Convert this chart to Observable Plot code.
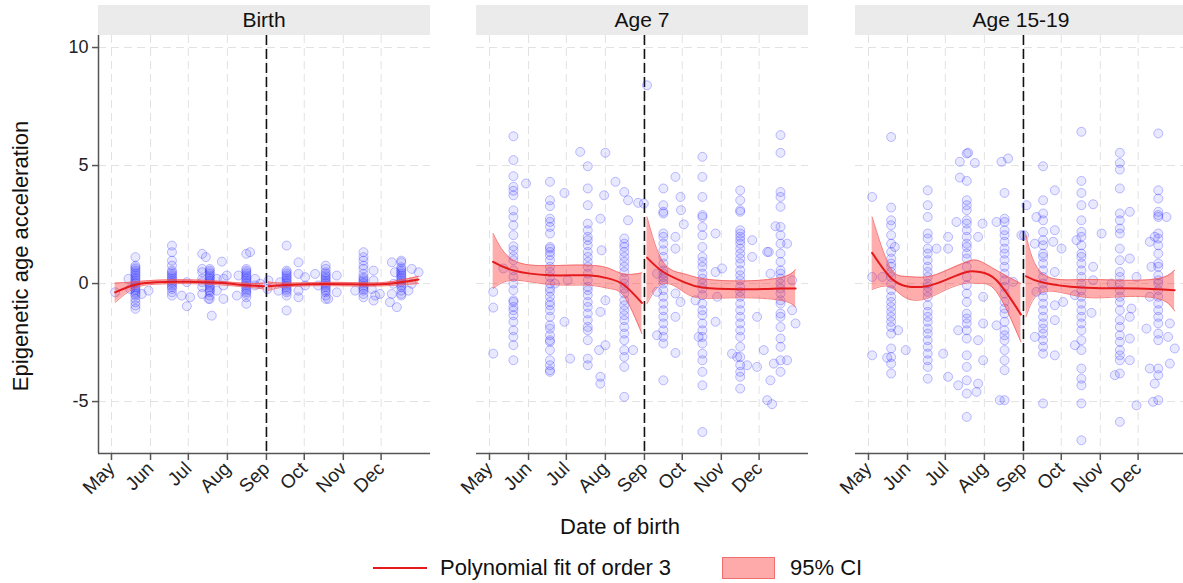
<!DOCTYPE html>
<html>
<head>
<meta charset="utf-8">
<script src="https://cdn.jsdelivr.net/npm/d3@7"></script>
<script src="https://cdn.jsdelivr.net/npm/@observablehq/plot@0.6"></script>
<style>
  html, body { margin: 0; padding: 0; background: #fff; }
  #root { position: relative; width: 1183px; height: 583px; overflow: hidden; background: #fff;
          font-family: "Liberation Sans", Arial, sans-serif; color: #111; }
  .hdr { position: absolute; top: 5px; height: 30px; width: 332px; background: #ebebeb;
         text-align: center; line-height: 30px; font-size: 21px; color: #111; }
  .lbl { position: absolute; white-space: nowrap; }
</style>
</head>
<body>
<div id="root"></div>
<script>
// ---------- categories / ticks ----------
const panelNames = ["Birth", "Age 7", "Age 15-19"];
const monthTicks = [0, 31, 61, 92, 123, 153, 184, 214];           // days since 1 May
const monthLabels = ["May", "Jun", "Jul", "Aug", "Sep", "Oct", "Nov", "Dec"];
const yTicks = [-5, 0, 5, 10];
const yTickLabels = ["-5", "0", "5", "10"];
const cutoffDay = 123;                                              // 1 September

// ---------- Birth: points (columns [day, values] + scattered [day, value]) ----------
const birthCols = [
  [19, [1.12,0.76,0.69,0.62,0.55,0.48,0.41,0.34,0.27,0.2,0.13,0.06,0.0,-0.08,-0.15,-0.23,-0.3,-0.37,-0.44,-0.51,-0.65,-0.79,-0.93,-1.07]],
  [48, [1.61,1.33,0.97,0.76,0.55,0.48,0.41,0.34,0.27,0.2,0.13,0.06,0.0,-0.08,-0.15,-0.23,-0.37,-0.51]],
  [72, [1.26,0.62,0.48,0.2,0.06,-0.15,-0.44]],
  [78, [0.62,0.55,0.48,0.41,0.34,0.27,0.2,0.13,0.06,0.0,-0.08,-0.15,-0.23,-0.3,-0.37,-0.51,-0.65]],
  [107, [1.26,0.62,0.55,0.48,0.41,0.34,0.27,0.2,0.13,0.06,0.0,-0.08,-0.15,-0.23,-0.3,-0.37,-0.44,-0.58,-0.86]],
  [139, [1.61,0.55,0.48,0.41,0.34,0.27,0.2,0.13,0.06,0.0,-0.08,-0.15,-0.23,-0.3,-0.37,-0.51,-1.14]],
  [170, [0.76,0.62,0.48,0.41,0.34,0.27,0.2,0.13,0.06,0.0,-0.08,-0.15,-0.23,-0.3,-0.37,-0.51,-0.65]],
  [200, [1.33,1.12,0.97,0.76,0.62,0.41,0.27,0.2,0.13,0.06,0.0,-0.08,-0.15,-0.23,-0.3,-0.44,-0.58]],
  [230, [0.97,0.9,0.69,0.62,0.55,0.48,0.41,0.34,0.27,0.2,0.13,0.06,-0.01,-0.08,-0.15,-0.3,-0.44,-0.51]]
];
const birthExtra = [[2.9,-0.37],[13.5,0.2],[24,-0.44],[29.4,-0.3],[14.8,-0.23],[59.8,0.06],[62.4,-0.58],[59.8,-0.96],[55.8,-0.51],[74.9,1.12],[87.6,0.93],[83.6,0.2],[83.6,-0.3],[88.9,0.2],[88.9,-0.08],[88.9,-0.65],[91.5,0.34],[79.6,-1.36],[77,-0.65],[110,1.33],[99.5,-0.51],[100.8,0.34],[114,0.2],[114,-0.08],[118,-0.01],[124.6,0.13],[123.8,-0.23],[132.5,-0.3],[133.9,0.06],[148.4,0.9],[148.4,0.41],[148.4,-0.3],[148.4,-0.58],[153.7,0.27],[153.7,-0.08],[178.8,0.34],[178.8,-0.37],[164,-0.08],[161.6,0.41],[172,-0.65],[208,0.55],[208,0.13],[206.6,-0.23],[209.3,-0.51],[213,-0.44],[208,-0.72],[193.4,-0.3],[222.5,0.9],[225,0.48],[223.8,-0.01],[222.5,-0.44],[221,-0.79],[226.5,-1.0],[238.3,0.62],[243.7,0.48],[238.3,-0.01],[235.7,-0.3]];

// ---------- Age 7: points ----------
const age7Cols = [
  [19, [6.24,5.23,4.55,4.1,3.93,3.74,3.1,2.82,2.47,2.05,1.58,1.41,1.16,0.99,0.56,0.28,0,-0.28,-0.71,-0.78,-0.99,-1.13,-1.34,-1.62,-1.98,-2.26,-2.61,-3.25]],
  [48, [4.31,3.53,3.28,2.75,2.61,2.4,2.12,1.55,1.48,1.34,1.2,0.99,0.71,0.49,0.28,0,-0.21,-0.35,-0.56,-0.78,-0.92,-1.13,-1.41,-1.77,-1.91,-2.19,-2.4,-2.47,-2.82,-3.25,-3.46,-3.67,-3.74]],
  [78, [4.97,4.03,3.32,2.54,2.26,1.98,1.84,1.62,1.34,1.13,0.92,0.71,0.42,0.14,-0.14,-0.28,-0.49,-0.78,-0.99,-1.27,-1.55,-1.84,-1.98,-2.4,-3.18,-3.46]],
  [107, [3.88,1.91,1.69,1.55,1.34,1.13,0.92,0.71,0.49,0.21,0,-0.21,-0.42,-0.71,-0.92,-1.13,-1.34,-1.55,-1.84,-2.12,-2.4,-2.82,-3.11,-3.53,-4.8]],
  [138, [4.03,3.32,3.04,2.97,2.12,1.98,1.69,1.41,1.13,0.85,0.56,0.42,0.28,0.14,0,-0.28,-0.56,-0.85,-1.13,-1.41,-1.69,-1.98,-2.26,-2.54,-4.1]],
  [169, [5.37,4.52,3.67,2.9,2.82,2.4,2.05,1.55,1.13,0.92,0.71,0.42,0.21,0,-0.21,-0.49,-0.85,-1.13,-1.34,-1.69,-1.98,-2.26,-2.54,-2.97,-3.25,-3.74,-4.31,-6.29]],
  [199, [3.95,3.53,3.11,3.04,2.26,2.12,1.98,1.84,1.69,1.48,1.27,1.06,0.85,0.56,0.35,0.14,-0.14,-0.35,-0.56,-0.85,-1.13,-1.41,-1.69,-1.98,-2.26,-2.68,-3.11,-3.46,-3.74,-3.95,-4.45]],
  [231, [6.29,5.54,3.88,3.67,3.25,2.4,2.05,1.69,1.27,0.92,0.56,0.42,0.21,0,-0.21,-0.42,-0.71,-0.85,-1.27,-1.41,-1.84,-2.33,-2.68,-3.25,-3.74]]
];
const age7Extra = [[3,-0.35],[3,-1.02],[3,-2.97],[29,4.24],[11,0.64],[59.5,3.84],[59.5,-1.62],[52,0],[64,-3.18],[62,0.14],[72,5.58],[92,5.54],[91,3.74],[88,2.75],[89,1.41],[92,-0.71],[88,-1.2],[87,-2.82],[92,-2.61],[88,-3.95],[88,-4.24],[100,4.31],[110,3.53],[110,2.68],[118,3.42],[114,-2.82],[125,8.4],[122.5,3.39],[133,0.42],[133,-0.35],[133,-2.19],[147.6,4.52],[151.6,3.67],[152,3.11],[154.2,2.51],[147.6,1.98],[147.6,1.48],[147.6,-0.42],[147.6,-1.41],[147.6,-2.94],[151.6,-0.78],[179.4,2.12],[184.6,0.64],[179.4,0.49],[179.4,-1.62],[180.7,-0.56],[163.5,-0.71],[166,-2.26],[208.5,1.84],[208.5,1.13],[212.4,-1.41],[192.5,-2.97],[196.6,-3.11],[204.5,-3.46],[212.4,-3.53],[217.7,-2.82],[220.4,-4.94],[224.3,-5.11],[223,-4.1],[220.4,1.34],[227,2.43],[236.2,1.69],[240.2,0.14],[240.2,-1.13],[242.9,-1.69],[221.7,1.34],[223,0.42],[236.2,-3.25],[225.7,-3.39]];

// ---------- Age 15-19: points ----------
const age15Cols = [
  [18, [6.21,3.22,2.68,2.47,2.05,1.69,1.34,1.06,0.85,0.71,0.49,0.28,0,-0.28,-0.56,-0.78,-0.99,-1.2,-1.41,-1.62,-1.84,-2.12,-2.75,-3.11,-3.39,-3.81]],
  [47, [3.95,3.32,2.82,2.12,1.91,1.48,1.27,0.99,0.71,0.49,0.28,0,-0.14,-0.35,-0.56,-0.92,-1.2,-1.41,-1.62,-1.91,-2.12,-2.4,-2.68,-2.97,-3.25,-3.53,-4.03]],
  [78, [5.51,4.35,3.53,3.32,3.11,2.68,2.54,2.26,1.98,1.69,1.55,1.27,1.06,0.71,0.28,-0.07,-0.42,-0.78,-1.27,-1.48,-1.69,-1.98,-2.33,-3.04,-3.53,-4.1,-4.66,-5.65]],
  [108, [3.84,2.75,2.61,2.26,2.05,1.77,1.48,1.27,0.99,0.71,0.42,0.14,-0.14,-0.42,-0.78,-1.06,-1.27,-1.62,-1.98,-2.19,-2.4,-2.82,-3.25,-3.67,-4.94]],
  [138.6, [4.97,3.53,2.97,2.68,2.19,1.84,1.62,1.27,1.13,0.85,0.56,0.28,0,-0.28,-0.56,-0.85,-1.13,-1.41,-1.69,-1.91,-2.12,-2.4,-2.68,-2.97,-5.08]],
  [169, [6.43,4.35,3.84,3.32,2.68,2.19,1.98,1.62,1.27,1.13,0.85,0.56,0.28,0,-0.28,-0.56,-0.85,-1.13,-1.41,-1.69,-1.98,-2.4,-2.82,-3.6,-4.03,-4.31,-5.08,-6.64]],
  [199.5, [5.54,5.11,4.83,4.03,2.97,2.68,2.33,2.12,1.48,0.99,0.49,0.28,0,-0.28,-0.56,-0.78,-1.13,-1.55,-1.84,-2.19,-2.47,-2.82,-3.04,-3.25,-3.81,-5.86]],
  [230, [6.36,3.95,3.6,3.04,2.9,2.82,2.12,1.91,1.62,1.27,0.85,0.71,0.35,0.14,0,-0.28,-0.56,-0.85,-1.13,-1.41,-1.69,-2.12,-2.4,-3.6,-3.88,-4.94]]
];
const age15Extra = [[2.9,3.67],[2.9,0.28],[2.9,-3.04],[11.1,0.28],[14.8,-3.14],[29.6,-2.82],[23.5,-1.98],[20.9,1.55],[54,1.48],[59.3,-2.97],[63.2,1.98],[63.2,-3.95],[63.2,1.48],[72.5,5.16],[79.1,5.54],[84.4,5.11],[72.5,4.49],[90.5,2.54],[87,1.98],[91,-0.56],[91,-1.69],[87,-2.4],[91,-3.25],[87,-4.24],[85.7,-4.59],[69.8,2.61],[71.2,-1.98],[71.2,-4.31],[110.8,5.3],[105.6,5.16],[101.6,2.61],[101.6,-1.77],[121.4,2.05],[114.8,0.07],[104.2,-4.94],[125.4,3.32],[123.5,2.05],[133.3,2.82],[132,1.69],[133.3,-0.35],[132,-2.26],[147.9,3.95],[147.9,2.26],[146.6,1.77],[147.9,0.49],[147.9,-0.92],[147.9,-1.55],[147.9,-3.04],[153.2,1.48],[154.5,-0.78],[178.3,3.36],[185,2.12],[178.3,0.71],[178.3,0.14],[177,-1.24],[163.8,-2.61],[165.1,1.84],[163.8,-0.49],[207.4,1.06],[208.7,-1.06],[207.4,-1.41],[207.4,-2.33],[207.4,-3.25],[212.7,0.28],[212.7,-5.16],[207.4,3.04],[192.9,0],[195.5,-3.88],[223.3,1.77],[224.6,0.71],[223.3,-0.56],[220.6,-1.91],[239.2,-1.69],[237.8,-2.26],[243.1,-2.75],[239.2,-3.39],[223.3,-3.6],[227.2,-4.24],[236.5,2.82],[225.9,-5.01],[227.2,1.98]];

// ---------- Polynomial fits (order 3) with 95% CI: [day, fit, lo, hi] ----------
const birthFitBefore = [[2.9,-0.37,-0.8,0.02],[18,-0.06,-0.2,0.07],[35,0.06,-0.03,0.14],[60,0.08,0.0,0.16],[85,0.03,-0.05,0.1],[107,-0.07,-0.15,0.01],[121,-0.11,-0.23,0.02]];
const birthFitAfter  = [[124.6,-0.11,-0.3,0.07],[139,-0.06,-0.14,0.02],[170,-0.02,-0.09,0.05],[200,-0.04,-0.11,0.03],[222,0.0,-0.08,0.08],[243.7,0.17,0.0,0.31]];
const age7FitBefore  = [[2.9,0.92,-0.21,2.12],[18.8,0.56,0.14,0.99],[48,0.35,-0.04,0.76],[78,0.35,-0.07,0.78],[95,0.21,-0.21,0.64],[107,-0.07,-0.56,0.4],[121,-0.82,-2.12,0.45]];
const age7FitAfter   = [[125,1.1,-0.85,2.82],[138,0.49,0.0,0.9],[154,0.07,-0.35,0.42],[169,-0.17,-0.62,0.21],[199,-0.24,-0.6,0.11],[231,-0.21,-0.71,0.25],[243,-0.21,-0.99,0.59]];
const age15FitBefore = [[2.9,1.3,-0.25,2.82],[17,0.28,-0.14,0.71],[30,-0.11,-0.62,0.3],[46,-0.11,-0.64,0.28],[62,0.17,-0.25,0.56],[78,0.49,0.02,0.92],[88,0.49,0.0,0.96],[101.6,0.14,-0.35,0.56],[121,-1.31,-2.47,0.0]];
const age15FitAfter  = [[125,0.31,-1.41,2.05],[138.6,0.04,-0.35,0.4],[169,-0.17,-0.56,0.17],[199.5,-0.2,-0.56,0.14],[230,-0.24,-0.64,0.21],[243,-0.28,-1.16,0.56]];

// ---------- build tables ----------
function toPoints(cols, extra) {
  const out = [];
  cols.forEach(([d, vs]) => vs.forEach(v => out.push({day: d, value: v})));
  extra.forEach(([d, v]) => out.push({day: d, value: v}));
  return out;
}
function toFit(before, after) {
  const out = [];
  before.forEach(([d, f, lo, hi]) => out.push({side: "before", day: d, fit: f, lo, hi}));
  after.forEach(([d, f, lo, hi]) => out.push({side: "after", day: d, fit: f, lo, hi}));
  return out;
}
const panelPoints = [toPoints(birthCols, birthExtra), toPoints(age7Cols, age7Extra), toPoints(age15Cols, age15Extra)];
const panelFits = [toFit(birthFitBefore, birthFitAfter), toFit(age7FitBefore, age7FitAfter), toFit(age15FitBefore, age15FitAfter)];

// ---------- layout ----------
const root = document.getElementById("root");
const panelLeft = [98, 476, 855];
const panelW = 332;
const xDomain = [-10.3, 253.2];
const yDomain = [-7.2, 10.51];
const blue = "#1a1aff";
const red = "#e41a1c";

panelNames.forEach((name, i) => {
  const ML = i === 0 ? 98 : 40, MR = 12, MT = 10, MB = 70, plotH = 418;
  const marks = [
    Plot.ruleY(yTicks, {stroke: "#e2e2e2", strokeWidth: 1, strokeDasharray: "8,5"}),
    Plot.ruleX(monthTicks, {stroke: "#e2e2e2", strokeWidth: 1, strokeDasharray: "8,5"}),
    Plot.ruleX([cutoffDay], {stroke: "#111", strokeWidth: 1.6, strokeDasharray: "10,4"}),
    Plot.dot(panelPoints[i], {x: "day", y: "value", r: 4.5, fill: blue, fillOpacity: 0.1, stroke: blue, strokeOpacity: 0.27, strokeWidth: 1}),
    Plot.areaY(panelFits[i], {x: "day", y1: "lo", y2: "hi", z: "side", fill: "#ff3030", fillOpacity: 0.4, curve: "natural"}),
    Plot.line(panelFits[i], {x: "day", y: "lo", z: "side", stroke: "#f06060", strokeWidth: 1, strokeOpacity: 0.8, curve: "natural"}),
    Plot.line(panelFits[i], {x: "day", y: "hi", z: "side", stroke: "#f06060", strokeWidth: 1, strokeOpacity: 0.8, curve: "natural"}),
    Plot.line(panelFits[i], {x: "day", y: "fit", z: "side", stroke: red, strokeWidth: 2, curve: "natural"}),
    Plot.ruleY([yDomain[0]], {stroke: "#555", strokeWidth: 1.5}),
    Plot.axisX(monthTicks, {tickFormat: d => monthLabels[monthTicks.indexOf(d)], tickRotate: -45, tickSize: 7, tickPadding: 5, fontSize: 19, stroke: "#555", strokeWidth: 1.5, fill: "#222", label: null})
  ];
  if (i === 0) {
    marks.push(Plot.ruleX([xDomain[0]], {stroke: "#555", strokeWidth: 1.5}));
    marks.push(Plot.axisY(yTicks, {tickFormat: d => yTickLabels[yTicks.indexOf(d)], tickSize: 6, tickPadding: 4, fontSize: 18, stroke: "#555", strokeWidth: 1.5, fill: "#222", label: null}));
  }
  const svg = Plot.plot({
    width: ML + panelW + MR,
    height: MT + plotH + MB,
    marginLeft: ML, marginRight: MR, marginTop: MT, marginBottom: MB,
    x: {domain: xDomain, range: [ML, ML + panelW], axis: null},
    y: {domain: yDomain, axis: null},
    style: {fontFamily: "'Liberation Sans', Arial, sans-serif", fontSize: "18px", color: "#222", overflow: "visible", background: "transparent"},
    marks
  });
  svg.style.position = "absolute";
  svg.style.left = (panelLeft[i] - ML) + "px";
  svg.style.top = (35 - MT) + "px";
  root.appendChild(svg);

  const h = document.createElement("div");
  h.className = "hdr";
  h.style.left = panelLeft[i] + "px";
  h.textContent = name;
  root.appendChild(h);
});

// axis titles
const yt = document.createElement("div");
yt.className = "lbl";
yt.style.cssText += "left:21px;top:256px;font-size:22px;transform:translate(-50%,-50%) rotate(-90deg);";
yt.textContent = "Epigenetic age acceleration";
root.appendChild(yt);

const xt = document.createElement("div");
xt.className = "lbl";
xt.style.cssText += "left:620px;top:527px;font-size:22px;transform:translate(-50%,-50%);";
xt.textContent = "Date of birth";
root.appendChild(xt);

// legend
const legLine = document.createElement("div");
legLine.style.cssText = "position:absolute;left:373px;top:567px;width:54px;height:2px;background:" + red + ";";
root.appendChild(legLine);
const legT1 = document.createElement("div");
legT1.className = "lbl";
legT1.style.cssText += "left:440px;top:568px;font-size:22px;transform:translateY(-50%);";
legT1.textContent = "Polynomial fit of order 3";
root.appendChild(legT1);
const legBox = document.createElement("div");
legBox.style.cssText = "position:absolute;left:722px;top:557px;width:51px;height:20px;background:#ffaaaa;border:1.5px solid #f07070;";
root.appendChild(legBox);
const legT2 = document.createElement("div");
legT2.className = "lbl";
legT2.style.cssText += "left:790px;top:568px;font-size:22px;transform:translateY(-50%);";
legT2.textContent = "95% CI";
root.appendChild(legT2);
</script>
</body>
</html>
